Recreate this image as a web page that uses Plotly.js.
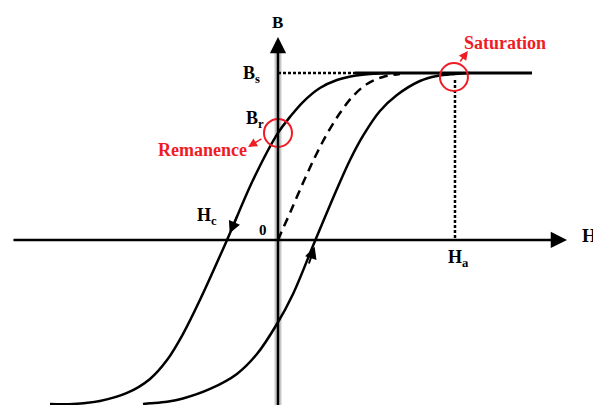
<!DOCTYPE html>
<html>
<head>
<meta charset="utf-8">
<script src="https://cdn.plot.ly/plotly-3.0.1.min.js"></script>
<style>
  body { margin: 0; background: #fff; }
  #plot { width: 593px; height: 405px; }
</style>
</head>
<body>
<div id="plot"></div>
<script>
// hysteresis loop, H in units of Ha, B in units of Bs
const descH = [0.633, 0.520, 0.424, 0.333, 0.237, 0.141, 0.068, 0, -0.141, -0.288, -0.441, -0.537, -0.627, -0.723, -0.853, -1.006, -1.158, -1.288];
const descB = [1.0, 0.994, 0.982, 0.958, 0.910, 0.826, 0.737, 0.641, 0.359, 0, -0.359, -0.563, -0.719, -0.832, -0.916, -0.964, -0.982, -0.982];

const ascH = [-0.763, -0.723, -0.627, -0.537, -0.384, -0.232, -0.119, -0.006, 0.085, 0.209, 0.333, 0.407, 0.480, 0.576, 0.672, 0.802, 0.898, 1.0, 1.085];
const ascB = [-0.982, -0.978, -0.968, -0.949, -0.892, -0.802, -0.683, -0.503, -0.323, -0.006, 0.305, 0.479, 0.623, 0.772, 0.868, 0.952, 0.982, 0.994, 1.0];

// initial magnetisation curve (dashed)
const initH = [0, 0.017, 0.068, 0.141, 0.209, 0.277, 0.350, 0.424, 0.503, 0.593, 0.689];
const initB = [0, 0.042, 0.162, 0.341, 0.497, 0.635, 0.760, 0.862, 0.934, 0.976, 0.994];

const satH = [0.435, 1.435];
const satB = [1, 1];
const bsDotH = [0, 0.435];
const bsDotB = [1, 1];
const haDotH = [1, 1];
const haDotB = [0.958, 0.012];

const hAxisH = [-1.503, 1.633];
const vAxisB = [-1.0, 1.216];

const BR = 0.641;   // remanence
const HC = -0.288;  // coercivity

const RED = '#ee1c24';
const FONT = 'Liberation Serif';

function line(x, y, opts) {
  return Object.assign({ x: x, y: y, mode: 'lines', hoverinfo: 'skip',
    line: { color: '#000', width: 2.5 } }, opts);
}

const traces = [
  line([0, 0], [vAxisB[0], vAxisB[1] - 0.05], { line: { color: '#c8c8c8', width: 7 } }),
  line(descH, descB, { line: { color: '#000', width: 2.5, shape: 'spline', smoothing: 1 } }),
  line(ascH, ascB, { line: { color: '#000', width: 2.5, shape: 'spline', smoothing: 1 } }),
  line(initH, initB, { line: { color: '#000', width: 2.5, dash: '9px,6px', shape: 'spline', smoothing: 1 } }),
  line(satH, satB, { line: { color: '#000', width: 3 } }),
  line(bsDotH, bsDotB, { line: { color: '#000', width: 2.5, dash: '3px,2px' } }),
  line(haDotH, haDotB, { line: { color: '#000', width: 2.5, dash: '3px,2px' } })
];

function arrow(x, y, ax, ay, color, w, size) {
  return { x: x, y: y, ax: ax, ay: ay, xref: 'x', yref: 'y', axref: 'x', ayref: 'y',
    text: '', showarrow: true, arrowhead: 2, arrowsize: size, arrowwidth: w, arrowcolor: color };
}

function label(x, y, text, size, color) {
  return { x: x, y: y, xref: 'x', yref: 'y', text: text, showarrow: false,
    font: { family: FONT, size: size, color: color || '#000', weight: 'bold' } };
}

const annotations = [
  arrow(hAxisH[1], 0, hAxisH[0], 0, '#000', 2.5, 1.3),
  arrow(0, vAxisB[1], 0, vAxisB[0], '#000', 2.5, 1.3),
  arrow(HC + 0.015, 0.04, HC + 0.06, 0.15, '#000', 2, 1.2),
  arrow(0.207, -0.04, 0.172, -0.15, '#000', 2, 1.2),
  arrow(-0.169, 0.557, -0.085, 0.611, RED, 1.5, 1.2),
  arrow(1.073, 1.132, 1.023, 1.060, RED, 1.5, 1.2),
  label(0, 1.305, 'B', 17),
  label(-0.15, 0.99, 'B<sub>s</sub>', 18),
  label(-0.13, 0.72, 'B<sub>r</sub>', 18),
  label(-0.425, 0.54, 'Remanence', 18, RED),
  label(1.28, 1.18, 'Saturation', 18, RED),
  label(-0.40, 0.14, 'H<sub>c</sub>', 18),
  label(-0.085, 0.06, '0', 15),
  label(1.02, -0.11, 'H<sub>a</sub>', 18),
  label(1.76, 0.025, 'H', 19)
];

const shapes = [
  { type: 'circle', xref: 'x', yref: 'y', xsizemode: 'pixel', ysizemode: 'pixel',
    xanchor: 0, yanchor: BR, x0: -14, x1: 14, y0: -14, y1: 14,
    line: { color: RED, width: 2 } },
  { type: 'circle', xref: 'x', yref: 'y', xsizemode: 'pixel', ysizemode: 'pixel',
    xanchor: 0.994, yanchor: 0.976, x0: -14, x1: 14, y0: -14, y1: 14,
    line: { color: RED, width: 2 } }
];

const layout = {
  width: 593, height: 405,
  margin: { l: 0, r: 0, t: 0, b: 0 },
  paper_bgcolor: '#fff', plot_bgcolor: '#fff',
  showlegend: false,
  xaxis: { range: [-1.5706, 1.7797], visible: false, fixedrange: true },
  yaxis: { range: [-0.988, 1.437], visible: false, fixedrange: true },
  annotations: annotations,
  shapes: shapes
};

Plotly.newPlot('plot', traces, layout, { displayModeBar: false, staticPlot: true });
</script>
</body>
</html>
